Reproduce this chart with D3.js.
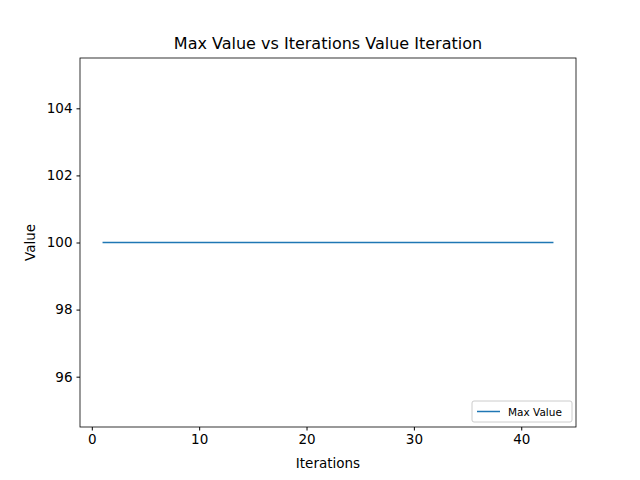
<!DOCTYPE html>
<html>
<head>
<meta charset="utf-8">
<script src="https://cdn.jsdelivr.net/npm/d3@7"></script>
<style>
  body { margin: 0; background: #fff; }
  text { font-family: "DejaVu Sans", sans-serif; }
</style>
</head>
<body>
<svg id="chart" width="640" height="480"></svg>
<script>
// data
const iterations = [1, 2, 3, 4, 5, 6, 7, 8, 9, 10, 11, 12, 13, 14, 15, 16, 17, 18, 19, 20, 21,
  22, 23, 24, 25, 26, 27, 28, 29, 30, 31, 32, 33, 34, 35, 36, 37, 38, 39, 40, 41, 42, 43];
const maxValues = [100, 100, 100, 100, 100, 100, 100, 100, 100, 100, 100, 100, 100, 100, 100,
  100, 100, 100, 100, 100, 100, 100, 100, 100, 100, 100, 100, 100, 100, 100, 100, 100, 100,
  100, 100, 100, 100, 100, 100, 100, 100, 100, 100];
const xTicks = [0, 10, 20, 30, 40];
const yTicks = [96, 98, 100, 102, 104];

const margin = {left: 80, right: 64, top: 58, bottom: 53};
const width = 640 - margin.left - margin.right;
const height = 480 - margin.top - margin.bottom;

const svg = d3.select('#chart');
const g = svg.append('g').attr('transform', `translate(${margin.left},${margin.top})`);

const x = d3.scaleLinear().domain([-1.1, 45.1]).range([0, width]);
const y = d3.scaleLinear().domain([94.5, 105.5]).range([height, 0]);

const xAxis = g.append('g').attr('transform', `translate(0,${height})`)
  .call(d3.axisBottom(x).tickValues(xTicks).tickSize(3.5).tickPadding(4));
const yAxis = g.append('g')
  .call(d3.axisLeft(y).tickValues(yTicks).tickSize(3.5).tickPadding(4));
[xAxis, yAxis].forEach((a) => {
  a.select('.domain').remove();
  a.selectAll('text').attr('font-size', 13.5).attr('fill', '#000')
   .style('font-family', '"DejaVu Sans", sans-serif');
  a.selectAll('line').attr('stroke', '#000');
});

// line
g.append('path')
 .datum(iterations.map((it, i) => ({x: it, y: maxValues[i]})))
 .attr('fill', 'none')
 .attr('stroke', '#1f77b4')
 .attr('stroke-width', 1.5)
 .attr('d', d3.line().x((d) => x(d.x)).y((d) => y(d.y)));

// frame
g.append('rect').attr('width', width).attr('height', height)
 .attr('fill', 'none').attr('stroke', '#000').attr('stroke-width', 0.8);

// labels
svg.append('text').attr('x', margin.left + width / 2).attr('y', 49)
   .attr('text-anchor', 'middle').attr('font-size', 16).text('Max Value vs Iterations Value Iteration');
svg.append('text').attr('x', margin.left + width / 2).attr('y', 468)
   .attr('text-anchor', 'middle').attr('font-size', 13.5).text('Iterations');
svg.append('text').attr('transform', `translate(35,${margin.top + height / 2}) rotate(-90)`)
   .attr('text-anchor', 'middle').attr('font-size', 13.5).text('Value');

// legend
const lg = g.append('g').attr('transform', `translate(${width - 104},${height - 26})`);
lg.append('rect').attr('width', 100).attr('height', 21).attr('rx', 2)
  .attr('fill', '#fff').attr('fill-opacity', 0.8).attr('stroke', '#ccc');
lg.append('line').attr('x1', 5).attr('x2', 28).attr('y1', 10.5).attr('y2', 10.5)
  .attr('stroke', '#1f77b4').attr('stroke-width', 1.5);
lg.append('text').attr('x', 36).attr('y', 14.5).attr('font-size', 10.5).text('Max Value');
</script>
</body>
</html>
